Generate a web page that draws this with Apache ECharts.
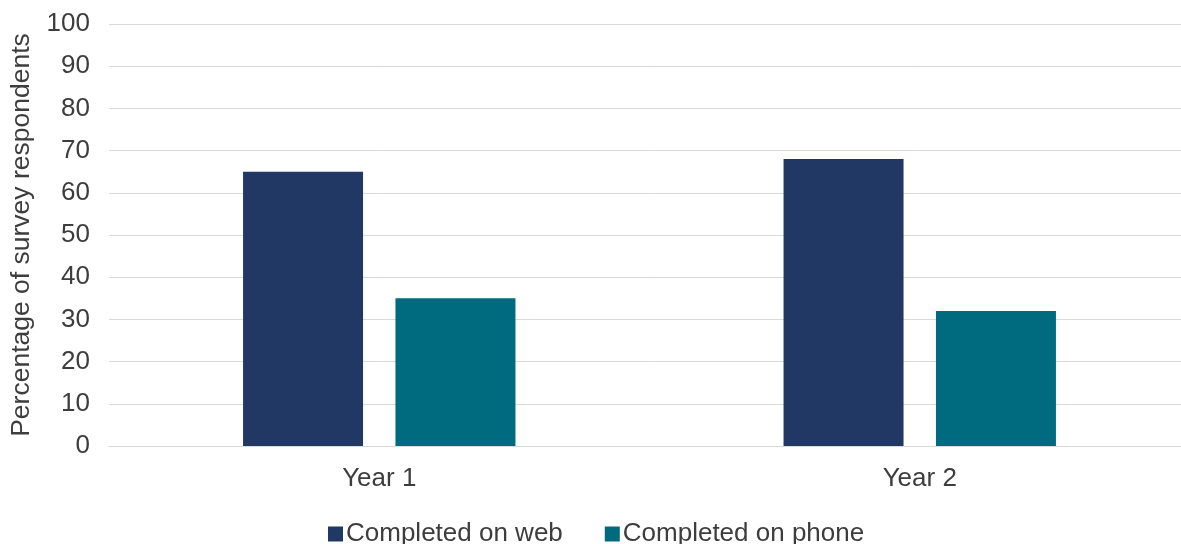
<!DOCTYPE html>
<html>
<head>
<meta charset="utf-8">
<style>
  html, body { margin: 0; padding: 0; background: #ffffff; overflow: hidden; }
  /* the plot runs slightly past the right edge of the window */
  #chart { width: 1190px; height: 544px; }
</style>
<script src="https://cdn.jsdelivr.net/npm/echarts@6/dist/echarts.min.js"></script>
</head>
<body>
<div id="chart"></div>
<script>
// Survey completion mode by year (percentage of respondents)
const categories = ['Year 1', 'Year 2'];
const webValues = [65, 68];
const phoneValues = [35, 32];
const seriesNames = ['Completed on web', 'Completed on phone'];
const yTicks = { min: 0, max: 100, interval: 10 };
const yAxisTitle = 'Percentage of survey respondents';

const FONT = '"Liberation Sans", Arial, sans-serif';
const TEXT = '#3d3d3d';
const GRID = '#d9d9d9';

const chart = echarts.init(document.getElementById('chart'), null, { renderer: 'canvas' });

chart.setOption({
  animation: false,
  backgroundColor: '#ffffff',
  textStyle: { fontFamily: FONT, color: TEXT },
  grid: { left: 107, right: 0, top: 24, bottom: 98, containLabel: false },
  legend: {
    data: seriesNames,
    top: 516,
    left: 323,
    icon: 'rect',
    itemWidth: 15,
    itemHeight: 15,
    itemGap: 42,
    textStyle: { fontFamily: FONT, fontSize: 26, color: TEXT, padding: [0, 0, 0, -2] }
  },
  xAxis: {
    type: 'category',
    data: categories,
    axisLine: { show: true, lineStyle: { color: GRID, width: 1 } },
    axisTick: { show: false },
    axisLabel: { fontFamily: FONT, fontSize: 26, color: TEXT, margin: 20 }
  },
  yAxis: {
    type: 'value',
    min: yTicks.min,
    max: yTicks.max,
    interval: yTicks.interval,
    name: yAxisTitle,
    nameLocation: 'middle',
    nameGap: 74,
    nameTextStyle: { fontFamily: FONT, fontSize: 26.5, color: TEXT },
    axisLine: { show: false },
    axisTick: { show: false },
    splitLine: { show: true, lineStyle: { color: GRID, width: 1 } },
    axisLabel: { fontFamily: FONT, fontSize: 26, color: TEXT, margin: 19 }
  },
  series: [
    {
      name: seriesNames[0],
      type: 'bar',
      data: webValues,
      barWidth: 120,
      barGap: '27%',
      itemStyle: { color: '#213764' }
    },
    {
      name: seriesNames[1],
      type: 'bar',
      data: phoneValues,
      barWidth: 120,
      itemStyle: { color: '#006b7f' }
    }
  ]
});
</script>
</body>
</html>
